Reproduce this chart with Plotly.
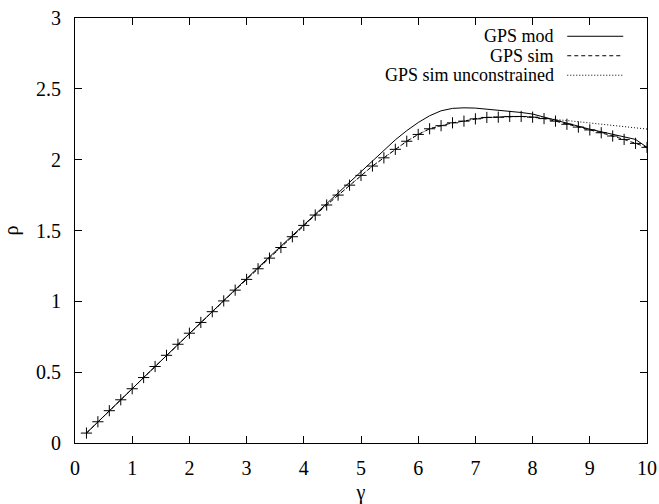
import plotly.graph_objects as go

gamma = [round(0.2 * i, 1) for i in range(1, 51)]

gps_sim = [0.070, 0.150, 0.228, 0.305, 0.383, 0.462, 0.540, 0.619, 0.697, 0.775,
           0.851, 0.927, 1.003, 1.079, 1.155, 1.230, 1.305, 1.380, 1.456, 1.536,
           1.609, 1.680, 1.750, 1.820, 1.889, 1.955, 2.013, 2.073, 2.130, 2.178,
           2.218, 2.240, 2.260, 2.272, 2.288, 2.298, 2.300, 2.305, 2.305, 2.300,
           2.290, 2.272, 2.250, 2.230, 2.210, 2.190, 2.167, 2.143, 2.115, 2.087]

gps_mod = [0.070, 0.150, 0.228, 0.305, 0.383, 0.462, 0.540, 0.619, 0.697, 0.776,
           0.853, 0.930, 1.007, 1.084, 1.161, 1.238, 1.314, 1.390, 1.466, 1.542,
           1.620, 1.695, 1.765, 1.840, 1.915, 1.990, 2.065, 2.140, 2.205, 2.262,
           2.310, 2.345, 2.362, 2.366, 2.364, 2.357, 2.350, 2.342, 2.333, 2.322,
           2.300, 2.278, 2.257, 2.236, 2.215, 2.197, 2.180, 2.162, 2.143, 2.087]

gps_unc = gps_sim[:40] + [2.293, 2.285, 2.276, 2.268, 2.259, 2.250, 2.242, 2.233, 2.225, 2.216]

legend_names = ["GPS mod", "GPS sim", "GPS sim unconstrained"]
legend_dash = ["solid", "4px,3px", "1px,2px"]

FONT = "Liberation Serif"
FS = 20
LEG_FS = 18

fig = go.Figure()
fig.add_trace(go.Scatter(x=gamma, y=gps_unc, mode="lines",
                         line=dict(color="black", width=1, dash=legend_dash[2]),
                         showlegend=False))
fig.add_trace(go.Scatter(x=gamma, y=gps_sim, mode="lines+markers",
                         line=dict(color="black", width=1, dash=legend_dash[1]),
                         marker=dict(symbol="cross-thin", size=8,
                                     line=dict(color="black", width=1)),
                         showlegend=False))
fig.add_trace(go.Scatter(x=gamma, y=gps_mod, mode="lines",
                         line=dict(color="black", width=1, dash=legend_dash[0]),
                         showlegend=False))

# legend (gnuplot style: text right-aligned, sample to the right)
leg_y = [0.957, 0.9112, 0.8654]
for name, dash, yy in zip(legend_names, legend_dash, leg_y):
    fig.add_annotation(x=0.8396, y=yy, xref="paper", yref="paper", text=name,
                       showarrow=False, xanchor="right", yanchor="middle",
                       borderpad=0,
                       font=dict(family=FONT, size=LEG_FS, color="black"))
    fig.add_shape(type="line", xref="paper", yref="paper",
                  x0=0.8606, x1=0.9585, y0=yy, y1=yy,
                  line=dict(color="black", width=1, dash=dash))

axis_common = dict(showline=True, linecolor="black", linewidth=1, mirror="allticks",
                   ticks="inside", ticklen=7, tickcolor="black", tickwidth=1,
                   showgrid=False, zeroline=False, automargin=False,
                   tickfont=dict(family=FONT, size=FS, color="black"))

fig.update_layout(
    width=659, height=504,
    margin=dict(l=75, r=12, t=18, b=61),
    paper_bgcolor="white", plot_bgcolor="white",
    font=dict(family=FONT, size=FS, color="black"),
    xaxis=dict(range=[0, 10], dtick=1, tick0=0,
               title=dict(text="γ", font=dict(family=FONT, size=FS), standoff=6),
               ticklabelstandoff=7, **axis_common),
    yaxis=dict(range=[0, 3], dtick=0.5, tick0=0,
               title=dict(text="ρ", font=dict(family=FONT, size=FS), standoff=14),
               ticklabelstandoff=9, **axis_common),
)

fig.write_html("out.html")
